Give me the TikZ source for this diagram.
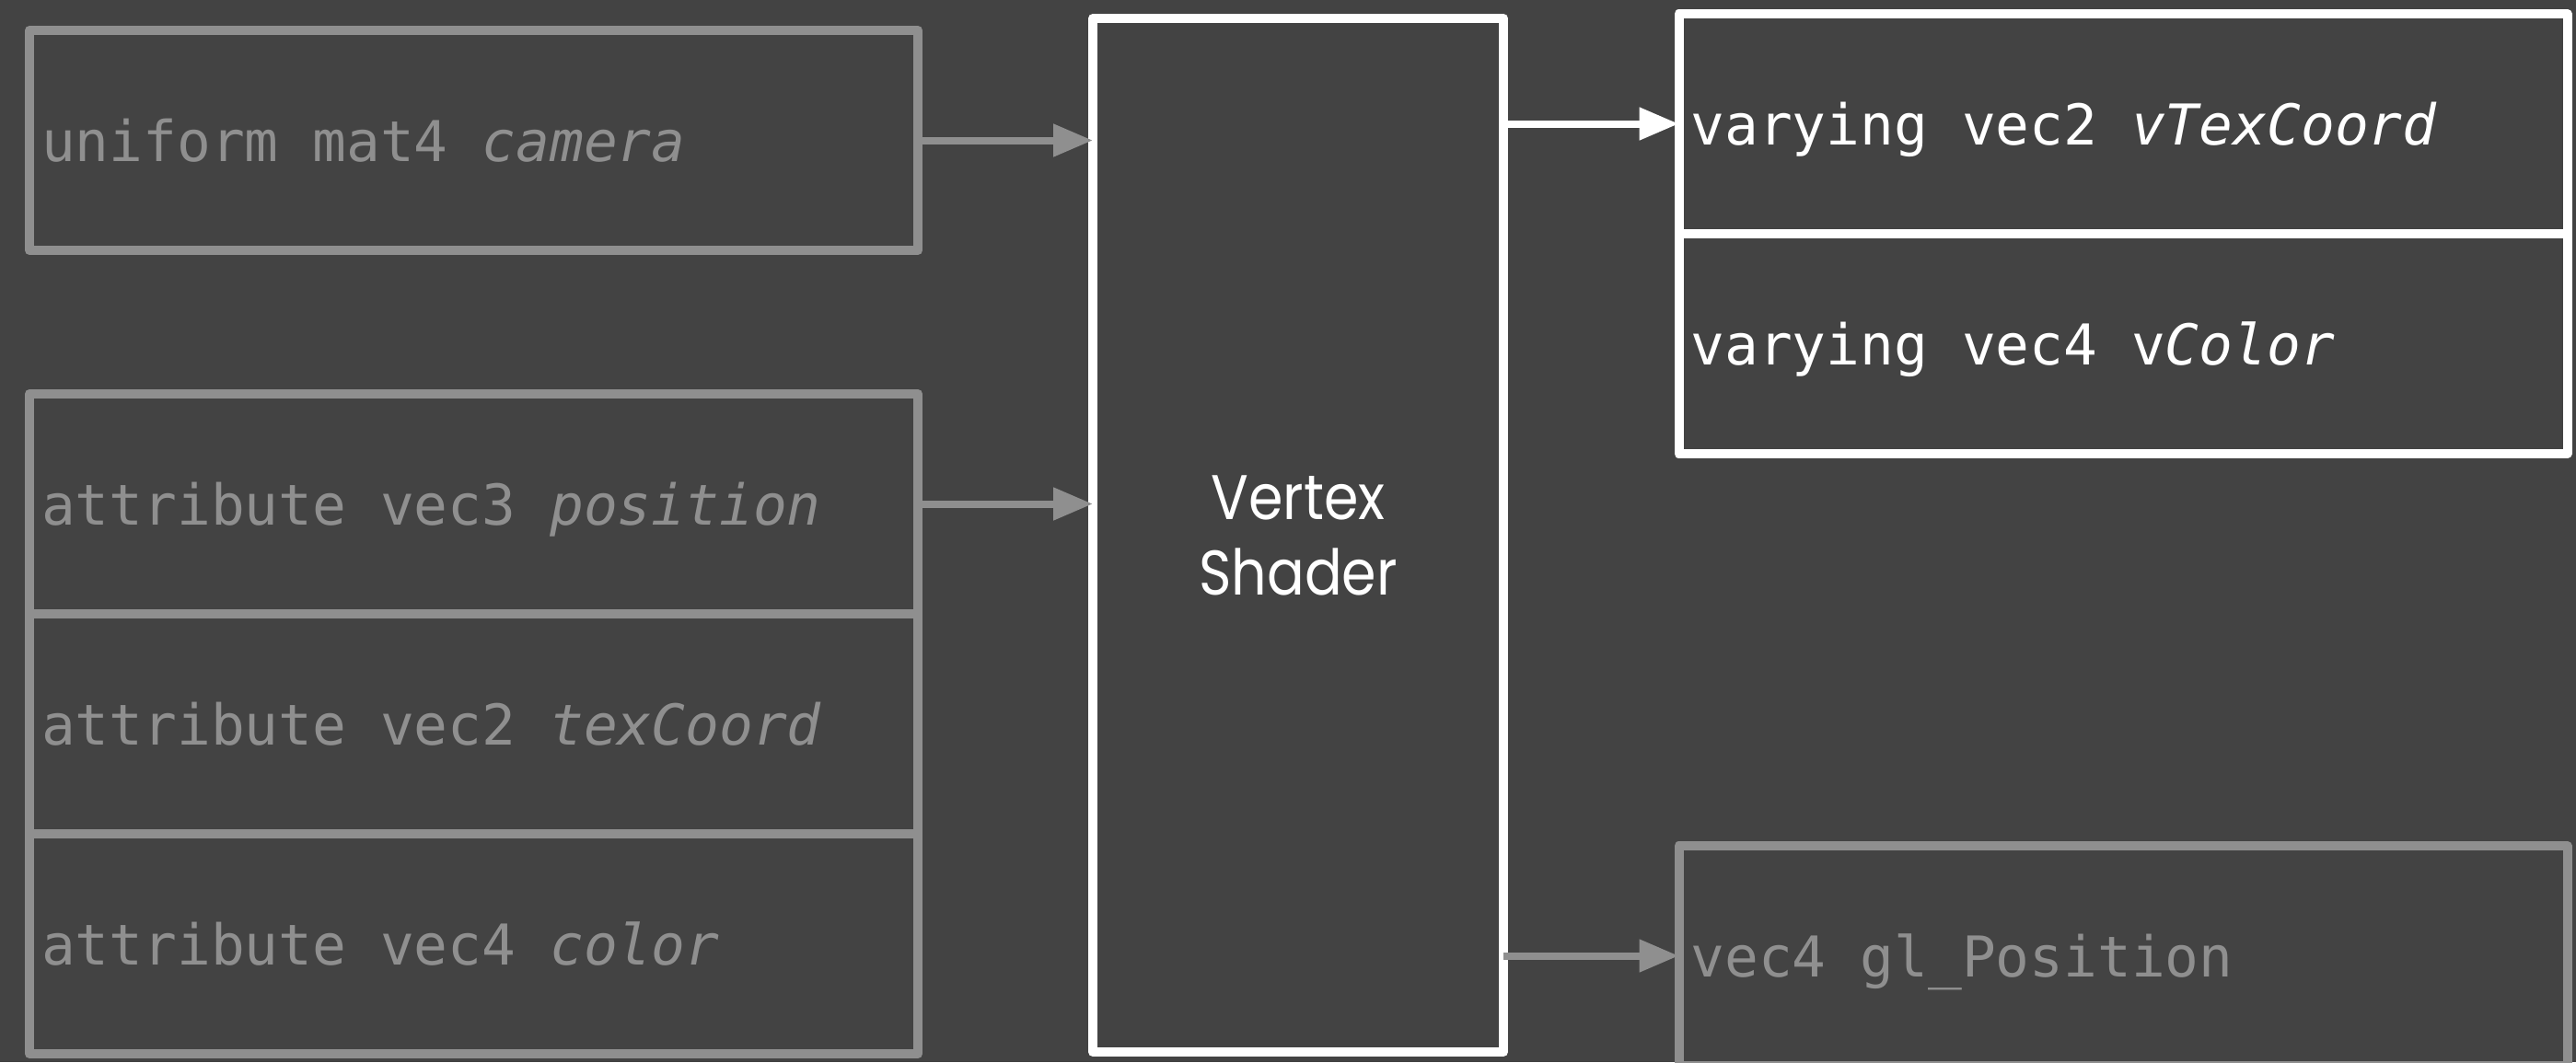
\documentclass[tikz,border=0pt]{standalone}
\usepackage{fontspec}
\usepackage{tikz}
\usetikzlibrary{arrows.meta}

\newfontfamily\codefont{DejaVu Sans Mono}
\newfontfamily\titlefont{Poppins}[FakeStretch=0.88]

\definecolor{slate}{HTML}{434343}
\definecolor{dimgray}{HTML}{8F8F8F}

\begin{document}
\begin{tikzpicture}[
    cell/.style={draw, line width=1mm, line join=round, outer sep=0pt,
      minimum width=9.65cm, minimum height=2.39cm,
      text width=9.39cm, inner xsep=0.13cm, align=flush left, text depth=0pt,
      font=\codefont\fontsize{17.4}{21}\selectfont},
    input/.style={cell, draw=dimgray, text=dimgray},
    output/.style={cell, draw=white, text=white},
    link/.style={line width=0.8mm, -{Triangle[length=4.3mm,width=3.4mm]}}
  ]
  % Background
  \fill[slate] (0,0) rectangle (27.98,-11.54);
  \useasboundingbox (0,0) rectangle (27.98,-11.54);

  % Inputs
  \node[input] (camera) at (5.145,-1.525) {uniform mat4 \textit{camera}};
  \node[input] (position) at (5.145,-5.475) {attribute vec3 \textit{position}};
  \node[input] (texcoord) at (5.145,-7.865) {attribute vec2 \textit{texCoord}};
  \node[input] (color) at (5.145,-10.255) {attribute vec4 \textit{color}};

  % Shader
  \node[draw=white, line width=1mm, line join=round, outer sep=0pt,
    minimum width=4.46cm, minimum height=11.23cm, text=white, align=center,
    font=\titlefont\fontsize{19.5}{23.3}\selectfont] (shader) at (14.10,-5.815) {Vertex\\Shader};

  % Outputs
  \node[output] (vtexcoord) at (23.06,-1.345) {varying vec2 \textit{vTexCoord}};
  \node[output] (vcolor) at (23.06,-3.735) {varying vec4 v\textit{Color}};
  \node[input] (glpos) at (23.06,-10.385) {vec4 gl\_Position};

  % Arrows
  \draw[link, dimgray] (camera) -- (camera -| shader.west);
  \draw[link, dimgray] (position) -- (position -| shader.west);
  \draw[link, white] (shader.east |- vtexcoord) -- (vtexcoord);
  \draw[link, dimgray] (shader.east |- glpos) -- (glpos);
\end{tikzpicture}
\end{document}
